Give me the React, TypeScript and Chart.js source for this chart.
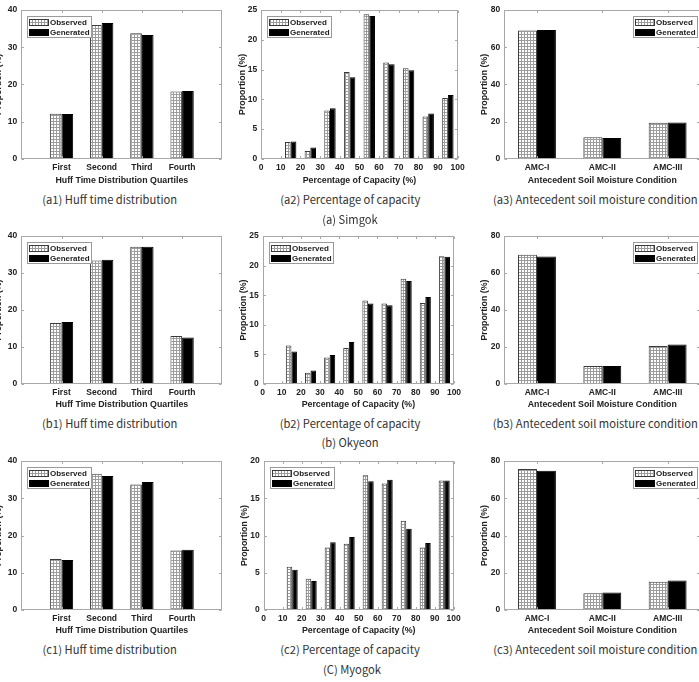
import React, { useEffect, useRef } from 'react';
import { Chart, registerables } from 'chart.js';

Chart.register(...registerables);

// ---- categories / bins ----
const HUFF_QUARTILES = ['First', 'Second', 'Third', 'Fourth'];
const CAPACITY_BINS = [15, 25, 35, 45, 55, 65, 75, 85, 95];
const AMC_CLASSES = ['AMC-I', 'AMC-II', 'AMC-III'];

// ---- (a) Simgok ----
const simgokHuffObserved = [12.1, 36.0, 33.8, 18.1];
const simgokHuffGenerated = [12.0, 36.5, 33.3, 18.2];
const simgokCapObserved = [2.8, 1.3, 8.1, 14.6, 24.3, 16.2, 15.2, 7.1, 10.2];
const simgokCapGenerated = [2.9, 1.9, 8.5, 13.7, 24.0, 15.9, 14.9, 7.6, 10.7];
const simgokAmcObserved = [69.0, 11.6, 19.4];
const simgokAmcGenerated = [69.3, 11.2, 19.5];

// ---- (b) Okyeon ----
const okyeonHuffObserved = [16.5, 33.4, 37.1, 13.0];
const okyeonHuffGenerated = [16.8, 33.6, 37.1, 12.6];
const okyeonCapObserved = [6.5, 1.9, 4.5, 6.1, 14.1, 13.6, 17.8, 13.7, 21.6];
const okyeonCapGenerated = [5.5, 2.3, 4.9, 7.1, 13.6, 13.3, 17.4, 14.7, 21.5];
const okyeonAmcObserved = [69.9, 9.7, 20.5];
const okyeonAmcGenerated = [68.9, 9.8, 21.3];

// ---- (C) Myogok ----
const myogokHuffObserved = [13.7, 36.6, 33.7, 16.0];
const myogokHuffGenerated = [13.4, 36.0, 34.4, 16.2];
const myogokCapObserved = [5.8, 4.2, 8.4, 8.9, 18.1, 17.0, 12.0, 8.4, 17.4];
const myogokCapGenerated = [5.4, 3.9, 9.1, 9.8, 17.3, 17.5, 10.9, 9.0, 17.4];
const myogokAmcObserved = [75.8, 9.0, 15.2];
const myogokAmcGenerated = [74.8, 9.4, 15.8];

// ---- styling ----
const FONT_FAMILY = '"Liberation Sans", Arial, Helvetica, sans-serif';
const TICK_FONT = { family: FONT_FAMILY, size: 8.5, weight: 'bold' as const };
const TITLE_FONT = { family: FONT_FAMILY, size: 8.8, weight: 'bold' as const };
const TEXT_COLOR = '#222222';
const AXIS_COLOR = '#a8a8a8';
const TICK_LEN = 2.5;

type Kind = 'huff' | 'capacity' | 'amc';

const KIND_AXIS: Record<Kind, { min: number; max: number; title: string }> = {
  huff: { min: 0, max: 5, title: 'Huff Time Distribution Quartiles' },
  capacity: { min: 0, max: 100, title: 'Percentage of Capacity (%)' },
  amc: { min: 0.5, max: 3.5, title: 'Antecedent Soil Moisture Condition' },
};

function positionsFor(kind: Kind): number[] {
  if (kind === 'capacity') return CAPACITY_BINS;
  const n = kind === 'huff' ? HUFF_QUARTILES.length : AMC_CLASSES.length;
  return Array.from({ length: n }, (_, i) => i + 1);
}

function labelFor(kind: Kind, v: number): string {
  if (kind === 'huff') return HUFF_QUARTILES[Math.round(v) - 1] ?? '';
  if (kind === 'amc') return AMC_CLASSES[Math.round(v) - 1] ?? '';
  return String(v);
}

type PanelDef = {
  kind: Kind;
  observed: number[];
  generated: number[];
  yMax: number;
  yStep: number;
  box: [number, number, number, number]; // left, top, right, bottom of the plot frame
  yTitleX: number;
  xTitleY: number;
  legend: 'left' | 'right';
};

const ROW_A = { top: 9.7, bottom: 158.7, xTitleY: 180.3 };
const ROW_B = { top: 235.7, bottom: 384, xTitleY: 405 };
const ROW_C = { top: 460.3, bottom: 610, xTitleY: 631 };

const PANELS: PanelDef[] = [
  { kind: 'huff', observed: simgokHuffObserved, generated: simgokHuffGenerated, yMax: 40, yStep: 10,
    box: [21.3, ROW_A.top, 222.3, ROW_A.bottom], yTitleX: -1, xTitleY: ROW_A.xTitleY, legend: 'left' },
  { kind: 'capacity', observed: simgokCapObserved, generated: simgokCapGenerated, yMax: 25, yStep: 5,
    box: [261.2, ROW_A.top, 457.7, ROW_A.bottom], yTitleX: 242.7, xTitleY: ROW_A.xTitleY + 0.7, legend: 'left' },
  { kind: 'amc', observed: simgokAmcObserved, generated: simgokAmcGenerated, yMax: 80, yStep: 20,
    box: [504.3, ROW_A.top, 700.3, ROW_A.bottom], yTitleX: 484.3, xTitleY: ROW_A.xTitleY, legend: 'right' },

  { kind: 'huff', observed: okyeonHuffObserved, generated: okyeonHuffGenerated, yMax: 40, yStep: 10,
    box: [21.3, ROW_B.top, 222.3, ROW_B.bottom], yTitleX: -1, xTitleY: ROW_B.xTitleY, legend: 'left' },
  { kind: 'capacity', observed: okyeonCapObserved, generated: okyeonCapGenerated, yMax: 25, yStep: 5,
    box: [262.7, ROW_B.top, 454, ROW_B.bottom], yTitleX: 244, xTitleY: ROW_B.xTitleY, legend: 'left' },
  { kind: 'amc', observed: okyeonAmcObserved, generated: okyeonAmcGenerated, yMax: 80, yStep: 20,
    box: [504.3, ROW_B.top, 700.3, ROW_B.bottom], yTitleX: 484.3, xTitleY: ROW_B.xTitleY, legend: 'right' },

  { kind: 'huff', observed: myogokHuffObserved, generated: myogokHuffGenerated, yMax: 40, yStep: 10,
    box: [21.3, ROW_C.top, 222.3, ROW_C.bottom], yTitleX: -1, xTitleY: ROW_C.xTitleY, legend: 'left' },
  { kind: 'capacity', observed: myogokCapObserved, generated: myogokCapGenerated, yMax: 20, yStep: 5,
    box: [263.7, ROW_C.top, 453.7, ROW_C.bottom], yTitleX: 245, xTitleY: ROW_C.xTitleY, legend: 'left' },
  { kind: 'amc', observed: myogokAmcObserved, generated: myogokAmcGenerated, yMax: 80, yStep: 20,
    box: [504.3, ROW_C.top, 700.3, ROW_C.bottom], yTitleX: 484.3, xTitleY: ROW_C.xTitleY, legend: 'right' },
];

const CAPTIONS: { text: string; x: number; y: number }[] = [
  { text: '(a1) Huff time distribution', x: 109.7, y: 199.5 },
  { text: '(a2) Percentage of capacity', x: 350.3, y: 199.5 },
  { text: '(a3) Antecedent soil moisture condition', x: 595.3, y: 199.5 },
  { text: '(a) Simgok', x: 350, y: 220 },
  { text: '(b1) Huff time distribution', x: 109.7, y: 423.5 },
  { text: '(b2) Percentage of capacity', x: 350, y: 423.5 },
  { text: '(b3) Antecedent soil moisture condition', x: 595.3, y: 423.5 },
  { text: '(b) Okyeon', x: 350, y: 443 },
  { text: '(c1) Huff time distribution', x: 109.7, y: 650 },
  { text: '(c2) Percentage of capacity', x: 350, y: 650 },
  { text: '(c3) Antecedent soil moisture condition', x: 595.3, y: 650 },
  { text: '(C) Myogok', x: 352, y: 669.5 },
];

// fine gray mesh used for the "Observed" bars
function meshPattern(ctx: CanvasRenderingContext2D): CanvasPattern | string {
  const c = document.createElement('canvas');
  c.width = 3;
  c.height = 3;
  const g = c.getContext('2d');
  if (!g) return '#cccccc';
  g.fillStyle = '#ffffff';
  g.fillRect(0, 0, 3, 3);
  g.fillStyle = '#9c9c9c';
  g.fillRect(0, 0, 3, 1);
  g.fillRect(0, 0, 1, 3);
  return ctx.createPattern(c, 'repeat') || '#cccccc';
}

// box around the plot area with inward tick marks on all four sides
const framePlugin = {
  id: 'frame',
  afterDatasetsDraw(chart: any) {
    const { ctx, chartArea: a } = chart;
    const xs = chart.scales.x;
    const ys = chart.scales.y;
    const L = Math.round(a.left) + 0.5;
    const R = Math.round(a.right) - 0.5;
    const T = Math.round(a.top) + 0.5;
    const B = Math.round(a.bottom) - 0.5;
    ctx.save();
    ctx.strokeStyle = AXIS_COLOR;
    ctx.lineWidth = 1;
    ctx.strokeRect(L, T, R - L, B - T);
    ctx.beginPath();
    xs.ticks.forEach((t: any) => {
      const px = Math.round(xs.getPixelForValue(t.value)) + 0.5;
      ctx.moveTo(px, B);
      ctx.lineTo(px, B - TICK_LEN);
      ctx.moveTo(px, T);
      ctx.lineTo(px, T + TICK_LEN);
    });
    ys.ticks.forEach((t: any) => {
      const py = Math.round(ys.getPixelForValue(t.value)) + 0.5;
      ctx.moveTo(L, py);
      ctx.lineTo(L + TICK_LEN, py);
      ctx.moveTo(R, py);
      ctx.lineTo(R - TICK_LEN, py);
    });
    ctx.stroke();
    ctx.restore();
  },
};

// boxed legend drawn inside the plot area
function makeLegendPlugin(side: 'left' | 'right') {
  return {
    id: 'boxLegend',
    afterDraw(chart: any) {
      const { ctx, chartArea: a } = chart;
      const w = 65;
      const h = 22;
      const x = Math.round(side === 'left' ? a.left + 6 : a.right - 2 - w);
      const y = Math.round(a.top + 6);
      ctx.save();
      ctx.fillStyle = '#ffffff';
      ctx.fillRect(x, y, w, h);
      ctx.strokeStyle = '#9a9a9a';
      ctx.lineWidth = 1;
      ctx.strokeRect(x + 0.5, y + 0.5, w - 1, h - 1);
      chart.data.datasets.forEach((ds: any, i: number) => {
        const cy = y + 6.5 + i * 9.5;
        ctx.fillStyle = ds.backgroundColor;
        ctx.fillRect(x + 2, Math.round(cy - 3.5), 20, 7);
        ctx.strokeStyle = ds.borderColor;
        ctx.strokeRect(x + 2.5, Math.round(cy - 3.5) + 0.5, 19, 6);
        ctx.fillStyle = TEXT_COLOR;
        ctx.font = `bold 8px ${FONT_FAMILY}`;
        ctx.textAlign = 'left';
        ctx.textBaseline = 'middle';
        ctx.fillText(ds.label, x + 23, cy + 0.5);
      });
      ctx.restore();
    },
  };
}

const TITLE_LH = TITLE_FONT.size * 1.2;

function Panel({ def }: { def: PanelDef }) {
  const ref = useRef<HTMLCanvasElement | null>(null);
  const [l, t, r, b] = def.box;
  const canvasLeft = Math.floor(def.yTitleX - TITLE_LH / 2);
  const canvasTop = Math.floor(t - 8);
  const canvasRight = Math.ceil(r + 14);
  const canvasBottom = Math.ceil(def.xTitleY + TITLE_LH / 2);
  const width = canvasRight - canvasLeft;
  const height = canvasBottom - canvasTop;

  useEffect(() => {
    const canvas = ref.current;
    if (!canvas) return;
    const ctx = canvas.getContext('2d');
    if (!ctx) return;
    const xs = positionsFor(def.kind);
    const axis = KIND_AXIS[def.kind];
    const yAxisWidth = l - canvasLeft;
    const xAxisHeight = canvasBottom - b;

    const chart = new Chart(ctx, {
      type: 'bar',
      data: {
        datasets: [
          {
            label: 'Observed',
            data: xs.map((x, i) => ({ x, y: def.observed[i] })),
            backgroundColor: meshPattern(ctx) as any,
            borderColor: '#3a3a3a',
            borderWidth: 1,
          },
          {
            label: 'Generated',
            data: xs.map((x, i) => ({ x, y: def.generated[i] })),
            backgroundColor: '#000000',
            borderColor: '#000000',
            borderWidth: 1,
          },
        ],
      },
      options: {
        responsive: false,
        animation: false,
        devicePixelRatio: 1,
        layout: { padding: { top: t - canvasTop, right: canvasRight - r, left: 0, bottom: 0 } },
        datasets: { bar: { categoryPercentage: 0.58, barPercentage: 1.0 } },
        plugins: { legend: { display: false }, tooltip: { enabled: false } },
        scales: {
          x: {
            type: 'linear',
            min: axis.min,
            max: axis.max,
            offset: false,
            grid: { display: false, drawTicks: false, offset: false },
            border: { display: false },
            afterBuildTicks: (scale: any) => {
              if (def.kind === 'capacity') {
                const ticks = [];
                for (let v = 0; v <= 100; v += 10) ticks.push({ value: v });
                scale.ticks = ticks;
              } else {
                scale.ticks = xs.map((v) => ({ value: v }));
              }
            },
            afterFit: (scale: any) => {
              scale.height = xAxisHeight;
            },
            ticks: {
              autoSkip: false,
              maxRotation: 0,
              minRotation: 0,
              padding: 4,
              color: TEXT_COLOR,
              font: TICK_FONT,
              callback: (v: any) => labelFor(def.kind, Number(v)),
            },
            title: {
              display: true,
              text: axis.title,
              color: TEXT_COLOR,
              font: TITLE_FONT,
              padding: { top: 0, bottom: Math.max(0, canvasBottom - def.xTitleY - TITLE_LH / 2) },
            },
          },
          y: {
            type: 'linear',
            min: 0,
            max: def.yMax,
            grid: { display: false, drawTicks: false },
            border: { display: false },
            afterFit: (scale: any) => {
              scale.width = yAxisWidth;
            },
            ticks: {
              stepSize: def.yStep,
              padding: 4,
              color: TEXT_COLOR,
              font: TICK_FONT,
            },
            title: {
              display: true,
              text: 'Proportion (%)',
              color: TEXT_COLOR,
              font: TITLE_FONT,
              padding: { top: Math.max(0, def.yTitleX - canvasLeft - TITLE_LH / 2), bottom: 0 },
            },
          },
        },
      } as any,
      plugins: [framePlugin, makeLegendPlugin(def.legend)],
    });
    return () => chart.destroy();
  }, [def]);

  return (
    <canvas
      ref={ref}
      width={width}
      height={height}
      style={{ position: 'absolute', left: canvasLeft, top: canvasTop, width, height }}
    />
  );
}

export default function App() {
  return (
    <div
      style={{
        position: 'absolute',
        left: 0,
        top: 0,
        width: 699,
        height: 682,
        overflow: 'hidden',
        background: '#ffffff',
      }}
    >
      {PANELS.map((p, i) => (
        <Panel key={i} def={p} />
      ))}
      {CAPTIONS.map((c, i) => (
        <div
          key={`cap-${i}`}
          style={{
            position: 'absolute',
            left: c.x,
            top: c.y,
            transform: 'translate(-50%, -50%)',
            whiteSpace: 'nowrap',
            fontFamily: '"Noto Sans CJK KR", "Noto Sans", sans-serif',
            fontSize: 11.2,
            lineHeight: 1,
            color: '#333333',
          }}
        >
          {c.text}
        </div>
      ))}
    </div>
  );
}
